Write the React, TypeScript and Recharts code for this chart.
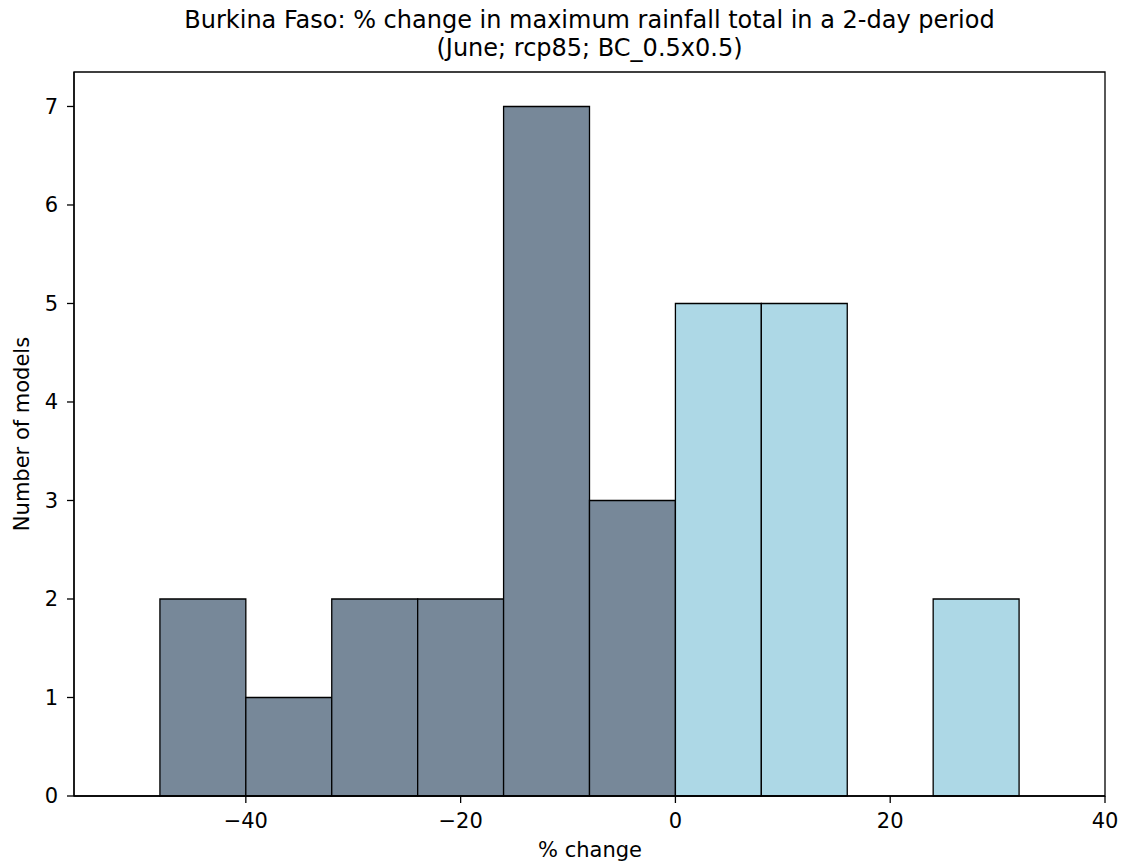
import React from 'react';
import { ComposedChart, XAxis, YAxis, ReferenceArea } from 'recharts';

const binStarts = [-48, -40, -32, -24, -16, -8, 0, 8, 16, 24];
const binWidth = 8;
const counts = [2, 1, 2, 2, 7, 3, 5, 5, 0, 2];
const xDomain: [number, number] = [-56, 40];
const yDomain: [number, number] = [0, 7.35];
const xTicks = [-40, -20, 0, 20, 40];
const yTicks = [0, 1, 2, 3, 4, 5, 6, 7];
const NEG = '#778899';
const POS = '#add8e6';

const data = binStarts.map((s, i) => ({ x: s + binWidth / 2, count: counts[i] }));

const FONT = '"DejaVu Sans", sans-serif';
const fmt = (v: number) => (v < 0 ? '\u2212' + Math.abs(v) : String(v));
const tickStyle = { fontFamily: FONT, fontSize: 21, fill: '#000' };

export default function App() {
  return (
    <div style={{ position: 'absolute', left: 0, top: 0, width: 1122, height: 865, background: '#fff' }}>
      <div style={{ position: 'absolute', left: 0, width: 1179, top: 6, textAlign: 'center', fontFamily: FONT, fontSize: 24, lineHeight: '28px', color: '#000', whiteSpace: 'nowrap' }}>
        <div>Burkina Faso: % change in maximum rainfall total in a 2-day period</div>
        <div>(June; rcp85; BC_0.5x0.5)</div>
      </div>
      <div style={{ position: 'absolute', left: 390, top: 838, width: 400, textAlign: 'center', fontFamily: FONT, fontSize: 21, lineHeight: '24px', color: '#000' }}>% change</div>
      <div style={{ position: 'absolute', left: 22 - 200, top: 434 - 12, width: 400, textAlign: 'center', fontFamily: FONT, fontSize: 21, color: '#000', transform: 'rotate(-90deg)', lineHeight: '24px' }}>Number of models</div>
      <ComposedChart width={1122} height={865} data={data}
        margin={{ top: 72, right: 17, bottom: 19, left: 4 }}>
        <XAxis dataKey="x" type="number" domain={xDomain} ticks={xTicks} allowDataOverflow
          tickFormatter={fmt} tick={tickStyle} tickSize={7} tickMargin={10} height={50}
          axisLine={{ stroke: '#000', strokeWidth: 1.3 }} tickLine={{ stroke: '#000', strokeWidth: 1.3 }} />
        <YAxis type="number" domain={yDomain} ticks={yTicks} allowDataOverflow
          tick={tickStyle} tickSize={7} tickMargin={9} width={70}
          axisLine={{ stroke: '#000', strokeWidth: 1.3 }} tickLine={{ stroke: '#000', strokeWidth: 1.3 }} />
        {data.map((d, i) =>
          d.count > 0 ? (
            <ReferenceArea key={i} x1={binStarts[i]} x2={binStarts[i] + binWidth} y1={0} y2={d.count}
              fill={binStarts[i] >= 0 ? POS : NEG} fillOpacity={1} stroke="#000" strokeWidth={1.3} ifOverflow="visible" />
          ) : null
        )}
        <ReferenceArea x1={xDomain[0]} x2={xDomain[1]} y1={yDomain[0]} y2={yDomain[1]}
          fill="none" fillOpacity={0} stroke="#000" strokeWidth={1.3} ifOverflow="visible" />
      </ComposedChart>
    </div>
  );
}
